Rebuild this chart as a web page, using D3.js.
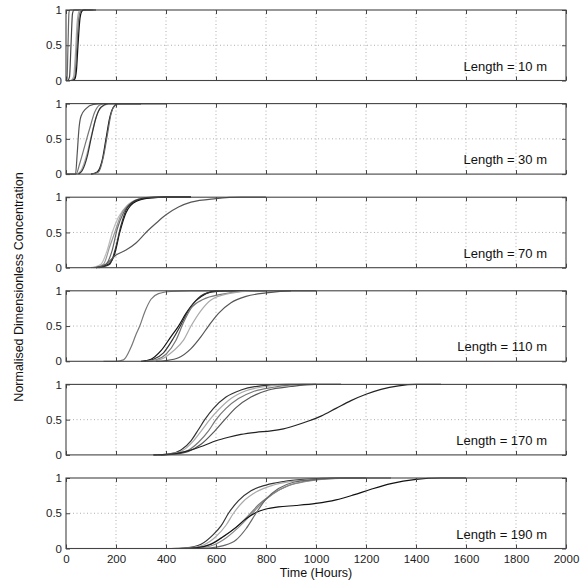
<!DOCTYPE html>
<html>
<head>
<meta charset="utf-8">
<script src="https://cdn.jsdelivr.net/npm/d3@7"></script>
<style>
  html, body { margin: 0; padding: 0; background: #fff; }
  svg { display: block; font-family: "Liberation Sans", Arial, Helvetica, sans-serif; }
</style>
</head>
<body>
<svg id="chart" width="588" height="582"></svg>
<script>
// ---------------- DATA ----------------
const lengths = [10, 30, 70, 110, 170, 190];
const xTicks = [0, 200, 400, 600, 800, 1000, 1200, 1400, 1600, 1800, 2000];
const yTicks = [0, 0.5, 1];
const xLabel = "Time (Hours)";
const yLabel = "Normalised Dimensionless Concentration";

// each series: [time (hours), normalised concentration]
const seriesL10 = [
  [[0,0],[4,0.02],[8,0.5],[12,0.97],[16,1],[60,1]],
  [[8,0],[14,0.05],[20,0.5],[26,0.95],[32,1],[80,1]],
  [[20,0],[30,0.05],[38,0.4],[44,0.8],[52,0.98],[60,1],[100,1]],
  [[25,0],[35,0.05],[43,0.45],[50,0.85],[58,0.98],[66,1],[110,1]],
  [[25,0],[35,0.02],[42,0.15],[48,0.5],[55,0.85],[62,0.97],[70,1],[120,1]]
];
const seriesL30 = [
  [[0,0],[38,0],[45,0.3],[52,0.65],[60,0.82],[80,0.93],[110,0.99],[150,1],[300,1]],
  [[0,0],[40,0],[55,0.15],[75,0.4],[95,0.65],[115,0.88],[135,0.98],[160,1],[300,1]],
  [[45,0],[60,0.05],[85,0.3],[105,0.6],[125,0.85],[150,0.97],[180,1],[300,1]],
  [[50,0],[65,0.05],[85,0.25],[100,0.5],[120,0.8],[140,0.95],[170,1],[300,1]],
  [[100,0],[125,0.03],[145,0.2],[160,0.5],[175,0.8],[190,0.95],[210,1],[400,1]],
  [[100,0],[130,0.03],[150,0.25],[165,0.55],[180,0.85],[195,0.97],[220,1],[400,1]]
];
const seriesL70 = [
  [[100,0],[140,0.05],[165,0.25],[185,0.5],[210,0.72],[250,0.9],[300,0.98],[380,1],[500,1]],
  [[110,0],[150,0.05],[175,0.3],[195,0.5],[220,0.75],[260,0.92],[320,0.99],[400,1],[500,1]],
  [[120,0],[160,0.05],[185,0.25],[205,0.55],[230,0.78],[270,0.93],[330,0.99],[400,1],[500,1]],
  [[120,0],[170,0.05],[195,0.2],[215,0.5],[240,0.78],[280,0.94],[340,0.99],[400,1],[500,1]],
  [[130,0],[175,0.05],[200,0.3],[220,0.6],[245,0.85],[290,0.97],[350,1],[500,1]],
  [[120,0],[160,0.05],[200,0.18],[240,0.25],[280,0.35],[320,0.5],[360,0.63],[400,0.75],[450,0.86],[500,0.93],[600,0.98],[700,1],[800,1]]
];
const seriesL110 = [
  [[150,0],[200,0],[230,0.02],[260,0.2],[280,0.38],[295,0.5],[315,0.7],[340,0.88],[370,0.96],[420,0.99],[500,1],[600,1]],
  [[300,0],[340,0.03],[380,0.15],[420,0.35],[450,0.5],[480,0.68],[520,0.86],[560,0.96],[600,1],[800,1]],
  [[310,0],[350,0.03],[390,0.12],[430,0.33],[460,0.52],[490,0.72],[530,0.9],[580,0.98],[650,1],[800,1]],
  [[320,0],[360,0.02],[400,0.1],[440,0.3],[470,0.55],[500,0.75],[550,0.88],[620,0.95],[700,0.99],[800,1],[900,1]],
  [[330,0],[380,0.03],[430,0.15],[470,0.3],[500,0.5],[540,0.72],[580,0.87],[650,0.96],[750,1],[900,1]],
  [[360,0],[400,0.01],[450,0.05],[500,0.18],[540,0.35],[570,0.5],[610,0.68],[660,0.83],[720,0.92],[800,0.97],[900,1],[1000,1]]
];
const seriesL170 = [
  [[350,0],[410,0.01],[460,0.07],[500,0.2],[530,0.36],[555,0.5],[590,0.66],[640,0.82],[700,0.92],[780,0.98],[880,1],[1000,1]],
  [[350,0],[410,0.01],[460,0.05],[510,0.2],[545,0.36],[575,0.5],[610,0.64],[660,0.8],[720,0.91],[800,0.97],[900,1],[1000,1]],
  [[370,0],[420,0.01],[480,0.05],[530,0.18],[570,0.34],[600,0.5],[640,0.66],[690,0.8],[750,0.9],[830,0.96],[950,1],[1100,1]],
  [[380,0],[430,0.01],[490,0.05],[540,0.15],[590,0.32],[635,0.5],[680,0.67],[740,0.82],[810,0.92],[900,0.97],[1000,1],[1100,1]],
  [[350,0],[420,0.01],[500,0.07],[550,0.13],[600,0.2],[650,0.25],[700,0.29],[760,0.32],[820,0.34],[870,0.37],[920,0.42],[970,0.48],[1020,0.55],[1080,0.66],[1140,0.77],[1200,0.86],[1260,0.93],[1330,0.98],[1400,1],[1500,1]]
];
const seriesL190 = [
  [[420,0],[480,0.01],[540,0.06],[590,0.2],[620,0.32],[650,0.5],[690,0.68],[740,0.82],[800,0.9],[870,0.95],[950,0.98],[1100,1],[1200,1]],
  [[420,0],[490,0.01],[550,0.05],[600,0.17],[640,0.33],[670,0.5],[710,0.67],[760,0.8],[830,0.9],[920,0.96],[1050,0.99],[1200,1]],
  [[450,0],[510,0.01],[570,0.05],[620,0.15],[680,0.3],[730,0.47],[770,0.62],[820,0.76],[880,0.88],[950,0.95],[1050,0.99],[1150,1],[1300,1]],
  [[460,0],[530,0.01],[590,0.05],[640,0.15],[690,0.3],[740,0.48],[780,0.63],[830,0.78],[890,0.89],[960,0.95],[1060,0.99],[1200,1],[1300,1]],
  [[450,0],[520,0.01],[580,0.06],[630,0.17],[680,0.3],[720,0.42],[760,0.51],[800,0.56],[850,0.59],[920,0.61],[1000,0.64],[1080,0.69],[1150,0.76],[1220,0.84],[1300,0.92],[1400,0.98],[1500,1],[1600,1]],
  [[500,0],[580,0.01],[630,0.04],[680,0.12],[720,0.28],[760,0.5],[800,0.7],[850,0.85],[910,0.94],[1000,0.98],[1100,1],[1200,1]]
];
const panelSeries = [seriesL10, seriesL30, seriesL70, seriesL110, seriesL170, seriesL190];

// ---------------- STYLE ----------------
const panelShades = [
  ["#666", "#444", "#aaa", "#777", "#111"],
  ["#555", "#777", "#aaa", "#333", "#111", "#666"],
  ["#bbb", "#999", "#666", "#111", "#333", "#555"],
  ["#777", "#111", "#333", "#777", "#aaa", "#555"],
  ["#333", "#aaa", "#777", "#555", "#222"],
  ["#333", "#aaa", "#777", "#888", "#111", "#666"]
];

const W = 588, H = 582;
const left = 66, right = 566;
const firstTop = 10, step = 93.6, panelH = 70.5;

const svg = d3.select("#chart");
const x = d3.scaleLinear().domain([0, 2000]).range([left, right]);

panelSeries.forEach((series, i) => {
  const top = firstTop + i * step;
  const y = d3.scaleLinear().domain([0, 1]).range([top + panelH, top]);
  const g = svg.append("g");

  // grid
  g.selectAll(".vg").data(xTicks.slice(1, -1)).join("line")
    .attr("x1", d => x(d)).attr("x2", d => x(d))
    .attr("y1", top).attr("y2", top + panelH)
    .attr("stroke", "#9a9a9a").attr("stroke-width", 0.8)
    .attr("stroke-dasharray", "1,2.5");
  g.append("line")
    .attr("x1", left).attr("x2", right)
    .attr("y1", y(0.5)).attr("y2", y(0.5))
    .attr("stroke", "#9a9a9a").attr("stroke-width", 0.8)
    .attr("stroke-dasharray", "1,2.5");

  // curves
  const line = d3.line().x(d => x(d[0])).y(d => y(d[1])).curve(d3.curveMonotoneX);
  g.selectAll(".curve").data(series).join("path")
    .attr("d", line)
    .attr("fill", "none")
    .attr("stroke", (d, k) => panelShades[i][k])
    .attr("stroke-width", 1.2);

  // axes (inward ticks)
  const isLast = i === panelSeries.length - 1;
  const axB = g.append("g").attr("transform", `translate(0,${top + panelH})`)
    .call(d3.axisBottom(x).tickValues(xTicks).tickSizeInner(-4).tickSizeOuter(0)
      .tickFormat(isLast ? d3.format("d") : () => ""));
  const axT = g.append("g").attr("transform", `translate(0,${top})`)
    .call(d3.axisTop(x).tickValues(xTicks).tickSizeInner(-4).tickSizeOuter(0).tickFormat(() => ""));
  const axL = g.append("g").attr("transform", `translate(${left},0)`)
    .call(d3.axisLeft(y).tickValues(yTicks).tickSizeInner(-4).tickSizeOuter(0)
      .tickFormat(d => d === 0.5 ? "0.5" : d3.format("d")(d)));
  const axR = g.append("g").attr("transform", `translate(${right},0)`)
    .call(d3.axisRight(y).tickValues(yTicks).tickSizeInner(-4).tickSizeOuter(0).tickFormat(() => ""));

  [axB, axT, axL, axR].forEach(a => {
    a.select(".domain").remove();
    a.selectAll(".tick line").attr("stroke", "#444").attr("stroke-width", 1);
    a.selectAll("text").attr("fill", "#222").style("font-size", "11.5px")
      .style("font-family", '"Liberation Sans", Arial, sans-serif');
  });
  axL.selectAll("text").attr("x", -4);
  axB.selectAll("text").attr("y", 6);

  // frame
  g.append("rect")
    .attr("x", left).attr("y", top)
    .attr("width", right - left).attr("height", panelH)
    .attr("fill", "none").attr("stroke", "#444").attr("stroke-width", 1.1);

  // length label
  g.append("text")
    .attr("x", 547).attr("y", top + panelH - 10)
    .attr("text-anchor", "end")
    .attr("fill", "#111")
    .style("font-size", "13px")
    .text(`Length = ${lengths[i]} m`);
});

// axis titles
svg.append("text")
  .attr("x", (left + right) / 2).attr("y", 577)
  .attr("text-anchor", "middle").attr("fill", "#111")
  .style("font-size", "12.5px")
  .text(xLabel);

svg.append("text")
  .attr("transform", `translate(23, 287) rotate(-90)`)
  .attr("text-anchor", "middle").attr("fill", "#111")
  .style("font-size", "12.5px")
  .text(yLabel);
</script>
</body>
</html>
